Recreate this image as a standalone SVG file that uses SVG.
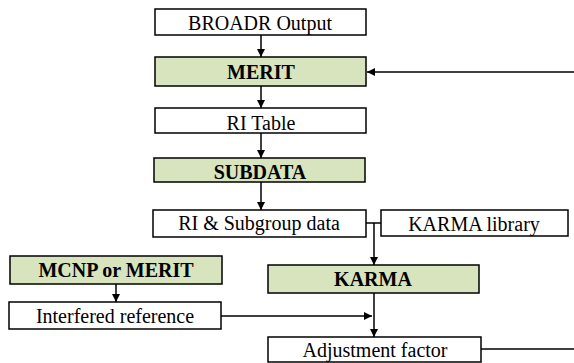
<svg xmlns="http://www.w3.org/2000/svg" width="574" height="363" viewBox="0 0 574 363">
<style>
.b{fill:#fff;stroke:#000;stroke-width:1.5}
.g{fill:#d7e4bd;stroke:#000;stroke-width:1.5}
.t{font-family:"Liberation Serif","Times New Roman",serif;font-size:20px;text-anchor:middle;fill:#000}
.tb{font-family:"Liberation Serif","Times New Roman",serif;font-size:20px;font-weight:bold;text-anchor:middle;fill:#000}
.c{fill:none;stroke:#000;stroke-width:1.5}
</style>
<defs>
<marker id="a" viewBox="0 0 10 10" refX="10" refY="5" markerWidth="8" markerHeight="8" markerUnits="userSpaceOnUse" orient="auto">
<path d="M0,0 L10,5 L0,10 z" fill="#000"/>
</marker>
</defs>
<rect width="574" height="363" fill="#fff"/>
<g id="connectors">
<line class="c" x1="261" y1="35" x2="261" y2="57" marker-end="url(#a)"/>
<line class="c" x1="261" y1="86" x2="261" y2="108" marker-end="url(#a)"/>
<line class="c" x1="261" y1="133" x2="261" y2="158" marker-end="url(#a)"/>
<line class="c" x1="261" y1="182" x2="261" y2="210" marker-end="url(#a)"/>
<line class="c" x1="574" y1="72" x2="367" y2="72" marker-end="url(#a)"/>
<line class="c" x1="366" y1="223" x2="381" y2="223"/>
<line class="c" x1="374" y1="223" x2="374" y2="265" marker-end="url(#a)"/>
<line class="c" x1="374" y1="293" x2="374" y2="337" marker-end="url(#a)"/>
<line class="c" x1="116" y1="284" x2="116" y2="302" marker-end="url(#a)"/>
<line class="c" x1="221" y1="316" x2="372" y2="316" marker-end="url(#a)"/>
<line class="c" x1="481" y1="349" x2="574" y2="349"/>
</g>
<g id="broadr"><rect class="b" x="155" y="9" width="211" height="26"/><text class="t" x="260" y="30">BROADR Output</text></g>
<g id="merit"><rect class="g" x="155" y="57" width="211" height="29"/><text class="tb" x="261" y="79">MERIT</text></g>
<g id="ritable"><rect class="b" x="155" y="108" width="211" height="25"/><text class="t" x="261" y="130">RI Table</text></g>
<g id="subdata"><rect class="g" x="154" y="158" width="211" height="24"/><text class="tb" x="260" y="179">SUBDATA</text></g>
<g id="risub"><rect class="b" x="153" y="210" width="213" height="27"/><text class="t" x="259" y="230">RI &amp; Subgroup data</text></g>
<g id="karmalib"><rect class="b" x="381" y="210" width="187" height="26"/><text class="t" x="474" y="231">KARMA library</text></g>
<g id="mcnp"><rect class="g" x="10" y="256" width="212" height="28"/><text class="tb" x="116" y="277">MCNP or MERIT</text></g>
<g id="karma"><rect class="g" x="268" y="265" width="211" height="28"/><text class="tb" x="373" y="286">KARMA</text></g>
<g id="interfered"><rect class="b" x="9" y="302" width="212" height="27"/><text class="t" x="115" y="323">Interfered reference</text></g>
<g id="adjust"><rect class="b" x="268" y="337" width="213" height="25"/><text class="t" x="375" y="357">Adjustment factor</text></g>
</svg>
